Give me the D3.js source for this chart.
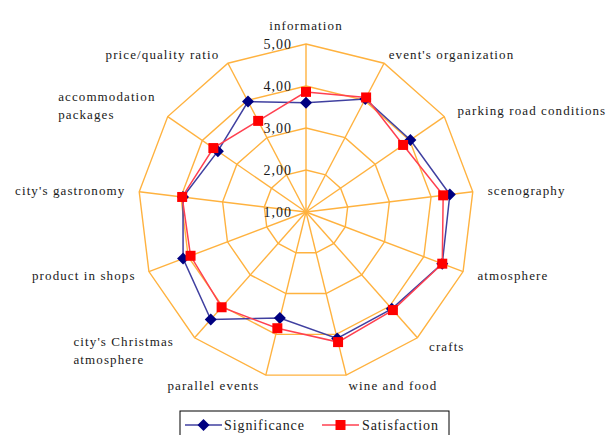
<!DOCTYPE html>
<html>
<head>
<meta charset="utf-8">
<script src="https://cdn.jsdelivr.net/npm/d3@7"></script>
<style>
  body { margin: 0; background: #fff; }
  text { font-family: "Liberation Serif", "Times New Roman", serif; fill: #1a1a1a; }
</style>
</head>
<body>
<div id="chart"></div>
<script>
/* Data */
var axes = ["information", "event's organization", "parking road conditions", "scenography",
            "atmosphere", "crafts", "wine and food", "parallel events",
            "city's Christmas\natmosphere", "product in shops", "city's gastronomy",
            "accommodation\npackages", "price/quality ratio"];
var significance = [3.60, 4.04, 4.02, 4.45, 4.47, 4.08, 4.10, 3.60, 4.42, 4.13, 3.95, 3.55, 3.97];
var satisfaction = [3.86, 4.08, 3.81, 4.29, 4.47, 4.12, 4.19, 3.85, 4.03, 3.94, 3.97, 3.68, 3.45];
var ticks = [1, 2, 3, 4, 5];
var seriesNames = ["Significance", "Satisfaction"];

var width = 611, height = 435,
    cx = 306, cy = 212,
    radius = 168;

var svg = d3.select("#chart").append("svg").attr("width", width).attr("height", height);

var r = d3.scaleLinear().domain([1, 5]).range([0, radius]);
var n = axes.length;
var angle = function(i) { return i * 2 * Math.PI / n; };
function px(i, v) { return cx + r(v) * Math.sin(angle(i)); }
function py(i, v) { return cy - r(v) * Math.cos(angle(i)); }

var grid = svg.append("g").attr("stroke", "#FFB23F").attr("stroke-width", 1.4).attr("fill", "none");

/* rings */
grid.selectAll("path.ring")
  .data(ticks.slice(1))
  .enter().append("path")
    .attr("class", "ring")
    .attr("d", function(t) {
      return d3.line()(d3.range(n).map(function(i) { return [px(i, t), py(i, t)]; })) + "Z";
    });

/* spokes */
grid.selectAll("line")
  .data(d3.range(n))
  .enter().append("line")
    .attr("x1", cx).attr("y1", cy)
    .attr("x2", function(i) { return px(i, 5); })
    .attr("y2", function(i) { return py(i, 5); });

/* tick labels */
var fmt = function(t) { return d3.format(".2f")(t).replace(".", ","); };
svg.append("g").selectAll("text")
  .data(ticks)
  .enter().append("text")
    .attr("x", cx - 14)
    .attr("y", function(t) { return cy - r(t); })
    .attr("dy", "0.35em")
    .attr("text-anchor", "end")
    .attr("font-size", 14)
    .attr("letter-spacing", 1)
    .text(fmt);

/* category labels */
var labels = svg.append("g").attr("font-size", 13).attr("letter-spacing", 1.1);
axes.forEach(function(name, i) {
  var a = angle(i), lr = radius + 10;
  var x = cx + lr * Math.sin(a), y = cy - lr * Math.cos(a);
  var s = Math.sin(a), c = Math.cos(a);
  var anchor = Math.abs(s) < 0.05 ? "middle" : (s > 0 ? "start" : "end");
  var lines = name.split("\n");
  if (Math.abs(s) < 0.05) y -= 9;
  if (s < 0) x -= 4;
  if (s > 0.6) x += 5;
  if (c < -0.5) y += 1;
  if (lines.length > 1 && c < 0) x -= 10;
  var t = labels.append("text").attr("text-anchor", anchor);
  var startY = lines.length > 1 ? (c > 0 ? y - 14 : y - 5) : y;
  lines.forEach(function(l, k) {
    t.append("tspan").attr("x", x).attr("y", startY + k * 18).attr("dy", "0.35em").text(l);
  });
  if (lines.length > 1) {
    /* left-align multi-line labels like the original */
    var w = 0;
    t.selectAll("tspan").each(function() { w = Math.max(w, this.getComputedTextLength()); });
    t.attr("text-anchor", "start");
    t.selectAll("tspan").attr("x", anchor == "end" ? x - w : x);
  }
});

/* series */
var colors = ["#000080", "#FF0000"];
var lineColors = ["#4040A0", "#FF4050"];
[significance, satisfaction].forEach(function(vals, si) {
  var pts = vals.map(function(v, i) { return [px(i, v), py(i, v)]; });
  svg.append("path")
    .attr("d", d3.line()(pts) + "Z")
    .attr("fill", "none")
    .attr("stroke", lineColors[si])
    .attr("stroke-width", 1.5);
  svg.append("g").selectAll("path")
    .data(pts)
    .enter().append("path")
      .attr("transform", function(d) { return "translate(" + d[0] + "," + d[1] + ")"; })
      .attr("d", si == 0 ? "M0,-6L6,0L0,6L-6,0Z" : "M-5,-5H5V5H-5Z")
      .attr("fill", colors[si]);
});

/* legend */
var lg = svg.append("g").attr("transform", "translate(180,411)");
lg.append("rect").attr("width", 269).attr("height", 30)
  .attr("fill", "#fff").attr("stroke", "#000").attr("stroke-width", 1);
var items = [{x: 5, w: 37, tx: 44}, {x: 142, w: 37, tx: 182}];
items.forEach(function(it, si) {
  var g = lg.append("g").attr("transform", "translate(" + it.x + ",14)");
  g.append("line").attr("x1", 0).attr("x2", it.w)
    .attr("stroke", lineColors[si]).attr("stroke-width", 1.5);
  g.append("path")
    .attr("transform", "translate(" + it.w / 2 + ",0)")
    .attr("d", si == 0 ? "M0,-6L6,0L0,6L-6,0Z" : "M-5,-5H5V5H-5Z")
    .attr("fill", colors[si]);
  lg.append("text").attr("x", it.tx).attr("y", 14).attr("dy", "0.35em")
    .attr("font-size", 14).attr("letter-spacing", 0.9).text(seriesNames[si]);
});
</script>
</body>
</html>
